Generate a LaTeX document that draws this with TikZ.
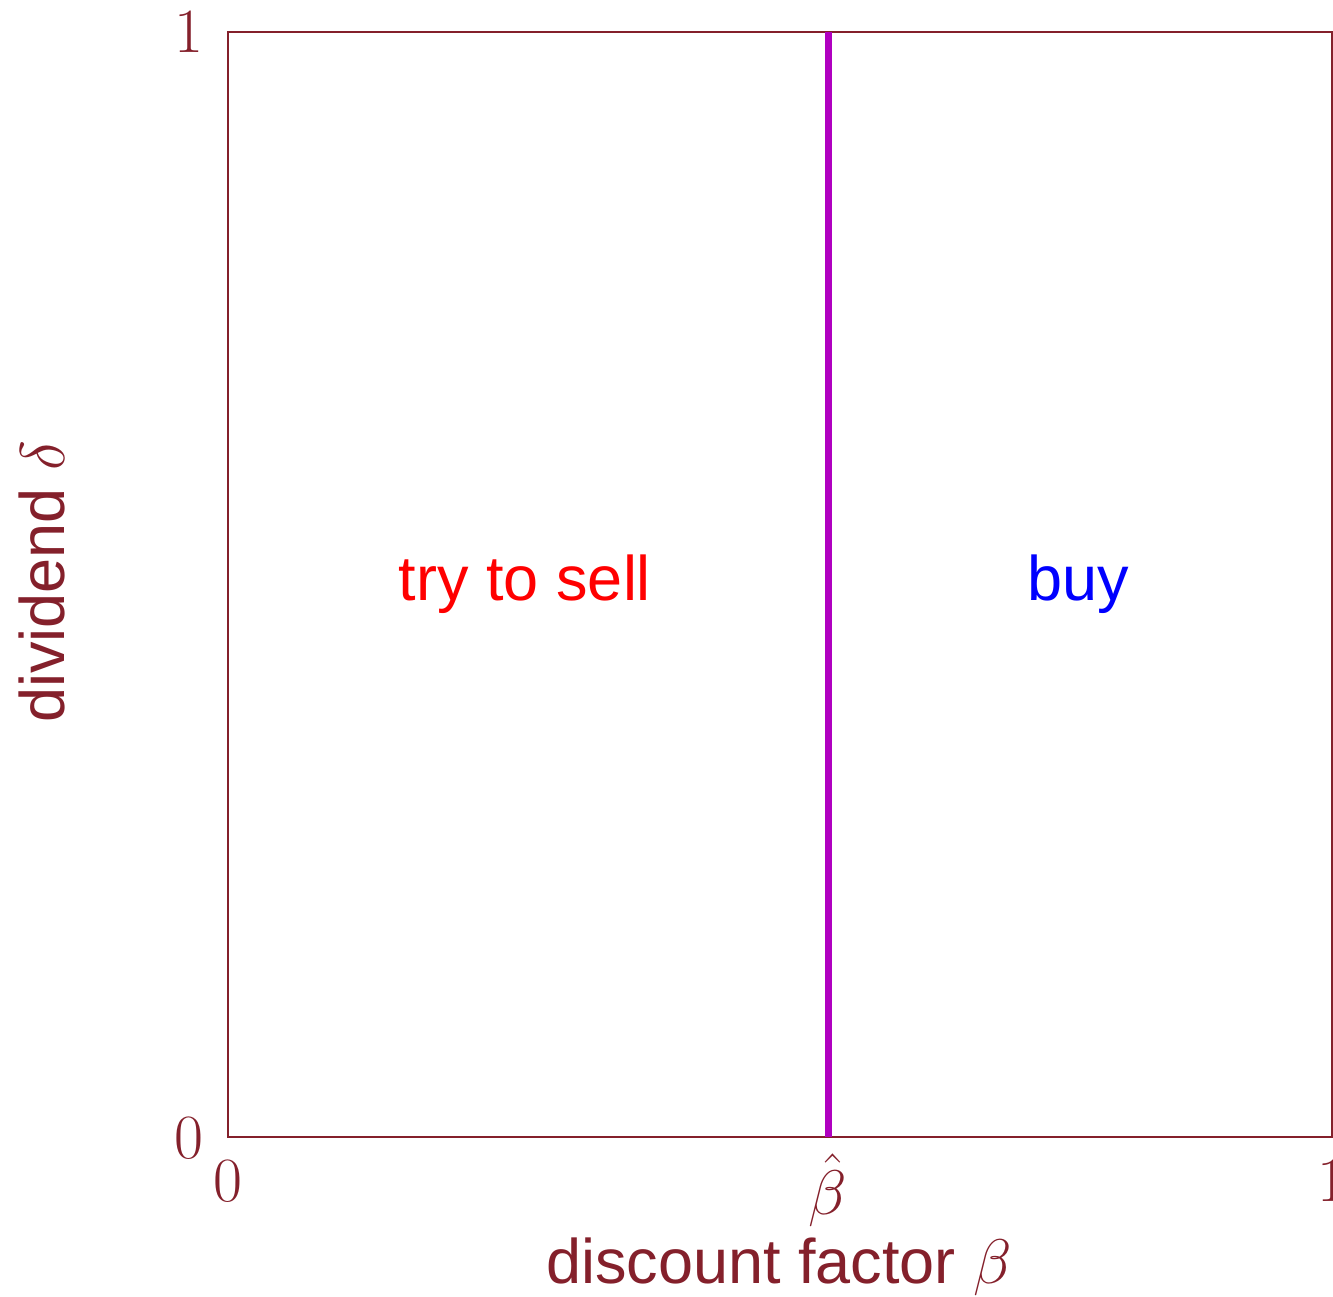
\RequirePackage{fix-cm}
\documentclass[tikz,border=0pt]{standalone}
\usepackage{fontspec}
\setmainfont{Liberation Sans}
\begin{document}
\begin{tikzpicture}[x=1pt,y=-1pt,
  lbl/.style={inner sep=0pt,anchor=base,font=\fontsize{63}{70}\selectfont},
]
\definecolor{dred}{HTML}{84202B}
\definecolor{dpurple}{HTML}{B000C0}
\useasboundingbox (0,0) rectangle (1333,1297);
% frame
\draw[dred,line width=2pt] (228,32) rectangle (1332,1137);
\coordinate (top) at (828,32);
\coordinate (bot) at (828,1137);
\draw[dpurple,line width=7pt] (bot) -- (top);
% tick labels
\node[lbl,text=dred] (y1) at (189,53) {$1$};
\node[lbl,text=dred] (y0) at (189,1158) {$0$};
\node[lbl,text=dred] (x0) at (228,1201) {$0$};
\node[lbl,text=dred] (xb) at (828,1214) {$\hat\beta$};
\node[lbl,text=dred] (x1) at (1332,1201) {$1$};
% axis titles
\node[lbl,text=dred] (xt) at (779,1283) {discount factor $\beta$};
\node[lbl,text=dred,rotate=90] (yt) at (64,582) {dividend $\delta$};
% regions
\node[lbl,text=red] (sell) at (525,600) {try to sell};
\node[lbl,text=blue] (buy) at (1078,600) {buy};
\end{tikzpicture}
\end{document}
